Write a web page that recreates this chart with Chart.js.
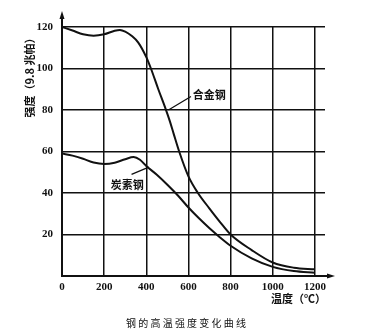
<!DOCTYPE html>
<html>
<head>
<meta charset="utf-8">
<script src="https://cdn.jsdelivr.net/npm/chart.js"></script>
<style>
  html, body { margin: 0; padding: 0; background: #fff; }
  #wrap { width: 374px; height: 336px; }
</style>
</head>
<body>
<div id="wrap"><canvas id="chart" width="374" height="336"></canvas></div>
<script>
// 温度 (℃) 与强度 (9.8 兆帕)
const alloyTemps = [0, 50, 100, 150, 200, 250, 275, 300, 330, 362, 400, 422, 457, 490, 512, 530, 556, 600, 645, 700, 750, 800, 900, 1000, 1100, 1200];
const alloyStrength = [120, 118.3, 116.5, 115.8, 116.5, 118.2, 118.6, 117.8, 115.8, 112.5, 105.5, 100, 90, 81, 74.5, 68.5, 60, 48, 40, 32.5, 26, 20, 12.5, 6.5, 4, 3.2];

const carbonTemps = [0, 50, 100, 150, 200, 250, 300, 340, 370, 400, 450, 500, 550, 600, 650, 700, 750, 800, 900, 1000, 1100, 1200];
const carbonStrength = [59, 58, 56.5, 54.7, 54, 54.6, 56.3, 57.3, 56, 53, 48.8, 44, 38.8, 33, 27.8, 23, 18.6, 14.6, 8.5, 4.4, 2.4, 1.6];

const xTicks = [0, 200, 400, 600, 800, 1000, 1200];
const yTicks = [0, 20, 40, 60, 80, 100, 120];

const seriesLabels = ["合金钢", "炭素钢"];
const yTitle = "强度（9.8 兆帕）";
const xTitle = "温度（℃）";
const caption = "钢 的 高 温 强 度 变 化 曲 线";

const toPoints = (xs, ys) => xs.map((x, i) => ({ x: x, y: ys[i] }));

const ink = "#111";
const cjk = "'Noto Sans CJK SC', sans-serif";

// 标注、坐标轴箭头和标题
const decor = {
  id: "decor",
  afterDraw(chart) {
    const ctx = chart.ctx;
    const xs = chart.scales.x;
    const ys = chart.scales.y;
    const a = chart.chartArea;
    const px = (v) => xs.getPixelForValue(v);
    const py = (v) => ys.getPixelForValue(v);

    ctx.save();
    ctx.strokeStyle = ink;
    ctx.fillStyle = ink;
    ctx.lineWidth = 2;

    // y 轴延长与箭头
    ctx.beginPath();
    ctx.moveTo(a.left, a.top);
    ctx.lineTo(a.left, 14);
    ctx.stroke();
    ctx.beginPath();
    ctx.moveTo(a.left, 11);
    ctx.lineTo(a.left - 2.5, 19);
    ctx.lineTo(a.left + 2.5, 19);
    ctx.closePath();
    ctx.fill();

    // x 轴延长与箭头
    ctx.beginPath();
    ctx.moveTo(a.right, a.bottom);
    ctx.lineTo(331, a.bottom);
    ctx.stroke();
    ctx.beginPath();
    ctx.moveTo(335, a.bottom);
    ctx.lineTo(327, a.bottom - 2.5);
    ctx.lineTo(327, a.bottom + 2.5);
    ctx.closePath();
    ctx.fill();

    // 指引线
    ctx.lineWidth = 1.3;
    ctx.beginPath();
    ctx.moveTo(px(612), py(86.5));
    ctx.lineTo(px(505), py(80));
    ctx.moveTo(px(330), py(49));
    ctx.lineTo(px(412), py(52.5));
    ctx.stroke();

    // 曲线标签
    ctx.font = "bold 11px " + cjk;
    ctx.textBaseline = "middle";
    ctx.textAlign = "left";
    ctx.fillText(seriesLabels[0], px(621), py(87.3));
    ctx.textAlign = "center";
    ctx.fillText(seriesLabels[1], px(310), py(43.8));

    // y 轴标题
    ctx.save();
    ctx.translate(30, 75);
    ctx.rotate(-Math.PI / 2);
    ctx.textAlign = "center";
    ctx.font = "bold 11px " + cjk;
    ctx.fillText(yTitle, 0, 0);
    ctx.restore();

    // x 轴标题
    ctx.textAlign = "right";
    ctx.font = "bold 11px " + cjk;
    ctx.fillText(xTitle, 326, 299);

    // 图题
    ctx.textAlign = "center";
    ctx.font = "10px " + cjk;
    ctx.fillText(caption, 186, 323);

    ctx.restore();
  },
};

new Chart(document.getElementById("chart"), {
  type: "line",
  data: {
    datasets: [
      {
        label: seriesLabels[0],
        data: toPoints(alloyTemps, alloyStrength),
        borderColor: ink,
        borderWidth: 2,
        pointRadius: 0,
        cubicInterpolationMode: "monotone",
        fill: false,
      },
      {
        label: seriesLabels[1],
        data: toPoints(carbonTemps, carbonStrength),
        borderColor: ink,
        borderWidth: 2,
        pointRadius: 0,
        cubicInterpolationMode: "monotone",
        fill: false,
      },
    ],
  },
  options: {
    responsive: false,
    animation: false,
    layout: { padding: { top: 27, right: 49, left: 0, bottom: 0 } },
    plugins: {
      legend: { display: false },
      tooltip: { enabled: false },
    },
    scales: {
      x: {
        type: "linear",
        min: 0,
        max: 1248,
        afterBuildTicks: (s) => { s.ticks = xTicks.map((v) => ({ value: v })); },
        afterFit: (s) => { s.height = 60; },
        grid: { color: ink, lineWidth: 1.5, drawTicks: false },
        border: { color: ink, width: 2 },
        ticks: {
          color: ink,
          padding: 5,
          callback: (v) => String(v),
          font: { family: "'Liberation Serif', serif", size: 11, weight: "bold" },
        },
      },
      y: {
        min: 0,
        max: 120,
        afterBuildTicks: (s) => { s.ticks = yTicks.map((v) => ({ value: v })); },
        afterFit: (s) => { s.width = 62; },
        grid: { color: ink, lineWidth: 1.5, drawTicks: false },
        border: { color: ink, width: 2 },
        ticks: {
          color: ink,
          padding: 9,
          callback: (v) => (v === 0 ? "" : String(v)),
          font: { family: "'Liberation Serif', serif", size: 11, weight: "bold" },
        },
      },
    },
  },
  plugins: [decor],
});
</script>
</body>
</html>
